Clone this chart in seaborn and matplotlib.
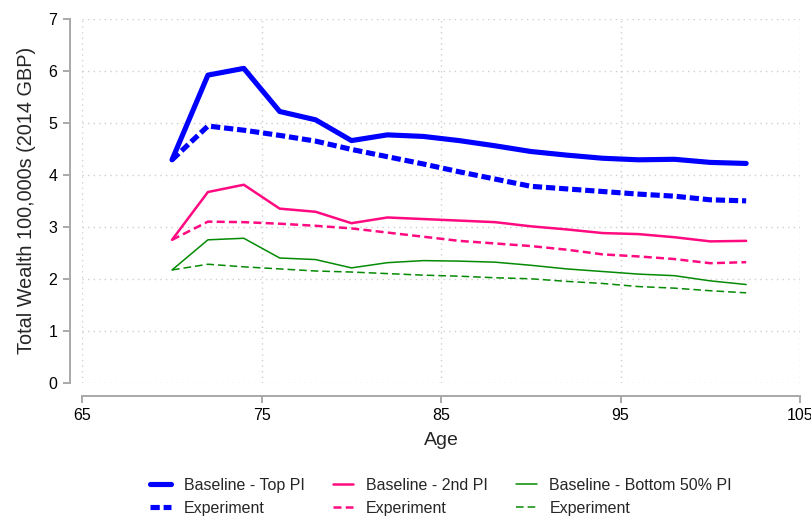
import matplotlib
matplotlib.use("Agg")
import matplotlib.pyplot as plt
import seaborn as sns

# ages on the x axis
ages = [70, 72, 74, 76, 78, 80, 82, 84, 86, 88, 90, 92, 94, 96, 98, 100, 102]

# total wealth, 100,000s of 2014 GBP
top_base = [4.29, 5.92, 6.05, 5.22, 5.06, 4.66, 4.77, 4.74, 4.66, 4.56, 4.45, 4.38, 4.32, 4.29, 4.30, 4.24, 4.22]
top_exp = [4.29, 4.94, 4.86, 4.76, 4.65, 4.49, 4.35, 4.21, 4.06, 3.92, 3.78, 3.73, 3.68, 3.63, 3.59, 3.52, 3.50]
mid_base = [2.75, 3.67, 3.81, 3.35, 3.29, 3.07, 3.18, 3.15, 3.12, 3.09, 3.01, 2.95, 2.88, 2.86, 2.80, 2.72, 2.73]
mid_exp = [2.75, 3.10, 3.09, 3.06, 3.02, 2.97, 2.89, 2.81, 2.73, 2.68, 2.63, 2.56, 2.47, 2.43, 2.38, 2.30, 2.32]
bot_base = [2.17, 2.75, 2.78, 2.40, 2.37, 2.21, 2.31, 2.35, 2.34, 2.32, 2.26, 2.19, 2.14, 2.09, 2.06, 1.96, 1.89]
bot_exp = [2.17, 2.28, 2.23, 2.19, 2.15, 2.13, 2.10, 2.07, 2.05, 2.02, 2.00, 1.95, 1.91, 1.85, 1.82, 1.77, 1.73]

labels = ["Baseline - Top PI", "Experiment",
          "Baseline - 2nd PI", "Experiment",
          "Baseline - Bottom 50% PI", "Experiment"]

sns.set_style("white")
plt.rcParams["font.family"] = ["Liberation Sans", "DejaVu Sans"]

fig = plt.figure(figsize=(8.12, 5.18), dpi=100)
ax = fig.add_axes([0.1014, 0.2612, 0.8838, 0.7021])

BLUE = "#0000ff"
PINK = "#ff0a80"
GREEN = "#058a05"

series = [
    (top_base, BLUE, 3.7, "-"),
    (top_exp, BLUE, 3.7, (0, (1.8, 0.75))),
    (mid_base, PINK, 1.8, "-"),
    (mid_exp, PINK, 1.8, (0, (3.2, 1.7))),
    (bot_base, GREEN, 1.1, "-"),
    (bot_exp, GREEN, 1.1, (0, (5.0, 2.6))),
]
for (vals, col, lw, ls), lab in zip(series, labels):
    sns.lineplot(x=ages, y=vals, ax=ax, color=col, linewidth=lw, linestyle=ls,
                 label=lab, solid_capstyle="round", solid_joinstyle="round",
                 dash_capstyle="butt")

ax.set_xlim(65, 105)
ax.set_ylim(0, 7)
ax.set_xticks([65, 75, 85, 95, 105])
ax.set_yticks(range(0, 8))
ax.grid(True, color="#cfcfcf", linestyle=(0, (1, 3)), linewidth=1.0)
ax.set_axisbelow(True)

for side in ["top", "right"]:
    ax.spines[side].set_visible(False)
ax.spines["left"].set_position(("outward", 9))
ax.spines["bottom"].set_position(("outward", 9.5))
for side in ["left", "bottom"]:
    ax.spines[side].set_color("#a8a8a8")
    ax.spines[side].set_linewidth(1.4)
ax.tick_params(axis="both", which="both", direction="out", length=5, width=1.4,
               color="#a8a8a8", labelsize=11.5, labelcolor="black", pad=4,
               left=True, bottom=True)

ax.set_xlabel("Age", fontsize=14, labelpad=6)
ax.set_ylabel("Total Wealth 100,000s (2014 GBP)", fontsize=14.3, labelpad=9)

leg = ax.legend(loc="upper center", bbox_to_anchor=(0.5, -0.222), ncol=3,
                frameon=False, fontsize=11.5, handlelength=1.3, handletextpad=0.8,
                columnspacing=1.75, labelspacing=0.5)

fig.savefig("out.png", dpi=100)
